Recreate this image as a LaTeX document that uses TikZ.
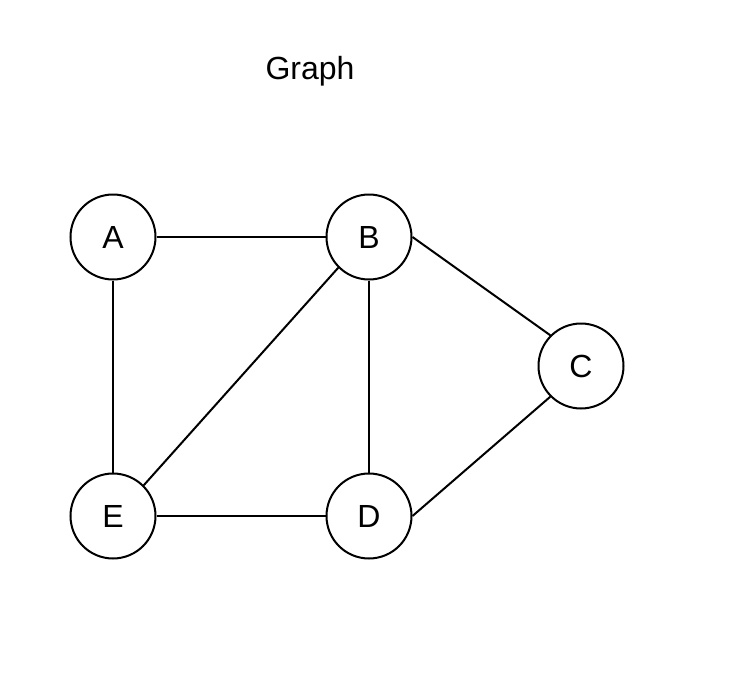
\documentclass[tikz,border=0pt]{standalone}
\usepackage{fontspec}
\setmainfont{Liberation Sans}
\begin{document}
\begin{tikzpicture}[x=1pt,y=-1pt,
  vtx/.style={circle,draw=black,line width=2pt,minimum size=85pt,inner sep=0pt,font=\fontsize{32}{38}\selectfont},
  edge/.style={draw=black,line width=2pt}]
\useasboundingbox[fill=white] (0,0) rectangle (740,680);
\node[font=\fontsize{32}{38}\selectfont,anchor=base] (title) at (310,79) {Graph};
\node[vtx] (A) at (113,237) {A};
\node[vtx] (B) at (369,237) {B};
\node[vtx] (C) at (581,366) {C};
\node[vtx] (D) at (369,516) {D};
\node[vtx] (E) at (113,516) {E};
\draw[edge] (A) -- (B);
\draw[edge] (A) -- (E);
\draw[edge] (B.south west) -- (E.north east);
\draw[edge] (B) -- (D);
\draw[edge] (B.east) -- (C.north west);
\draw[edge] (E) -- (D);
\draw[edge] (D.east) -- (C.south west);
\end{tikzpicture}
\end{document}
